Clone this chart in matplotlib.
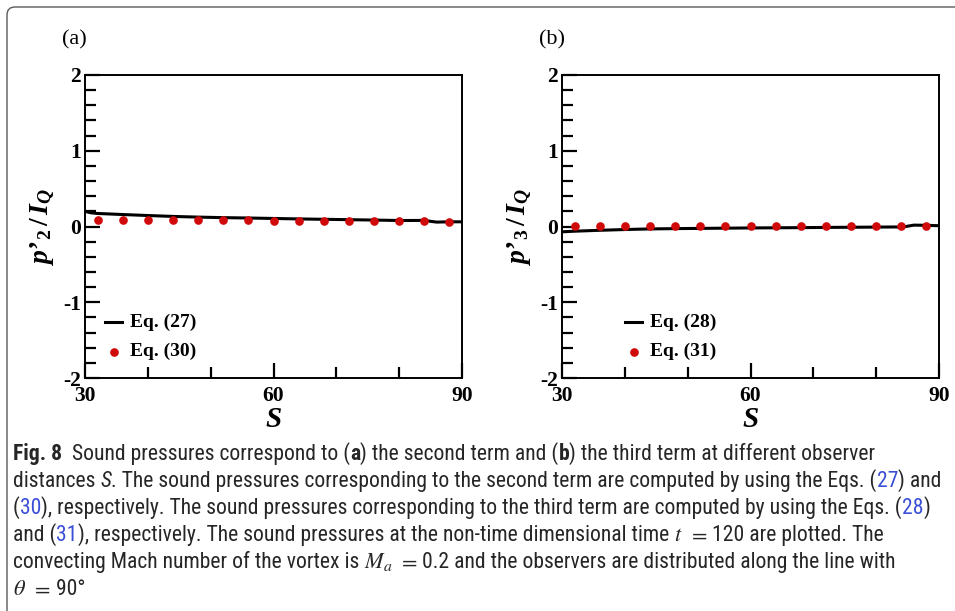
import matplotlib
matplotlib.use("Agg")
import matplotlib.pyplot as plt
from matplotlib import font_manager
from matplotlib.patches import FancyBboxPatch
from matplotlib.transforms import IdentityTransform
from matplotlib.offsetbox import TextArea, HPacker, AnchoredOffsetbox
from matplotlib.ticker import MultipleLocator

plt.rcParams['mathtext.fontset'] = 'custom'
plt.rcParams['mathtext.rm'] = 'Liberation Serif:bold'
plt.rcParams['mathtext.it'] = 'Liberation Serif:italic:bold'
plt.rcParams['mathtext.bf'] = 'Liberation Serif:bold'
plt.rcParams['axes.unicode_minus'] = False

# ---------------- data ----------------
S_line_a = [30, 31, 32, 36, 40, 44, 48, 52, 56, 60, 64, 68, 72, 76, 80, 83, 84, 85, 86, 88, 90]
p2_line = [0.20, 0.18, 0.172, 0.158, 0.145, 0.133, 0.124, 0.117, 0.112, 0.106, 0.100, 0.095, 0.090,
           0.085, 0.079, 0.080, 0.082, 0.068, 0.058, 0.062, 0.062]
S_dots = [32, 36, 40, 44, 48, 52, 56, 60, 64, 68, 72, 76, 80, 84, 88]
p2_dots = [0.092, 0.090, 0.088, 0.086, 0.084, 0.082, 0.080, 0.078, 0.076, 0.074, 0.072, 0.070,
           0.068, 0.067, 0.066]

S_line_b = [30, 32, 36, 40, 44, 48, 52, 56, 60, 64, 68, 72, 76, 80, 83, 84, 85, 86, 88, 90]
p3_line = [-0.070, -0.062, -0.050, -0.040, -0.032, -0.028, -0.025, -0.022, -0.019, -0.017, -0.015,
           -0.012, -0.010, -0.008, -0.006, -0.010, 0.004, 0.018, 0.016, 0.010]
p3_dots = [0.004, 0.004, 0.004, 0.004, 0.004, 0.004, 0.004, 0.004, 0.004, 0.004, 0.004, 0.004,
           0.004, 0.004, 0.004]

panel_labels = ["(a)", "(b)"]
ylabels = ["$p\u2019_{2}\\,/\\,I_{Q}$", "$p\u2019_{3}\\,/\\,I_{Q}$"]
legend_line = ["Eq. (27)", "Eq. (28)"]
legend_dots = ["Eq. (30)", "Eq. (31)"]
xticks_major = [30, 60, 90]
yticks_major = [-2, -1, 0, 1, 2]

W, H = 955, 611
fig = plt.figure(figsize=(W / 100, H / 100), dpi=100)

# border
fig.add_artist(FancyBboxPatch((7, -30), 1100, H - 7 + 30,
                              boxstyle="round,pad=0,rounding_size=8",
                              transform=IdentityTransform(), fill=False,
                              edgecolor="#5a5a5a", linewidth=1.0))

red = "#d00a0a"
serif = "Liberation Serif"
axes_px = [(85, 462), (562, 939)]
top_px, bot_px = 75, 378
series = [(S_line_a, p2_line, p2_dots), (S_line_b, p3_line, p3_dots)]
leg_x = [(105, 122, 130), (625, 642, 650)]

for i, ((l, r), (sx, sy, dy)) in enumerate(zip(axes_px, series)):
    ax = fig.add_axes([l / W, 1 - bot_px / H, (r - l) / W, (bot_px - top_px) / H])
    ax.plot(sx, sy, color="black", lw=2.2, solid_capstyle="butt")
    ax.plot(S_dots, dy, "o", color=red, ms=5.2, mec=red, lw=0)
    ax.set_xlim(30, 90)
    ax.set_ylim(-2, 2)
    ax.set_xticks(xticks_major)
    ax.xaxis.set_minor_locator(MultipleLocator(10))
    ax.set_yticks(yticks_major)
    ax.yaxis.set_minor_locator(MultipleLocator(0.2))
    ax.tick_params(which="both", direction="in", top=False, right=False, width=1.6)
    ax.tick_params(which="major", length=11)
    ax.tick_params(which="minor", length=8)
    ax.tick_params(axis="x", pad=6)
    ax.tick_params(axis="y", pad=3)
    for lab in ax.get_xticklabels() + ax.get_yticklabels():
        lab.set_fontfamily(serif)
        lab.set_fontweight("bold")
        lab.set_fontsize(15.5)
    for sp in ax.spines.values():
        sp.set_linewidth(1.4)
    ax.set_xlabel("$S$", fontsize=21, labelpad=-1)
    ax.set_ylabel(ylabels[i], fontsize=20, labelpad=4)
    # legend, drawn manually inside axes
    x0, x1, xt = leg_x[i]
    tr = fig.transFigure
    fig.add_artist(plt.Line2D([x0 / W, x1 / W], [1 - 322 / H] * 2, color="black", lw=2.2,
                              transform=tr))
    fig.add_artist(plt.Line2D([(x0 + x1) / 2 / W], [1 - 352 / H], marker="o", color=red,
                              ms=5.2, transform=tr, lw=0))
    fig.text(xt / W, 1 - 322 / H, legend_line[i], fontfamily=serif, fontweight="bold",
             fontsize=14, va="center", ha="left")
    fig.text(xt / W, 1 - 351 / H, legend_dots[i], fontfamily=serif, fontweight="bold",
             fontsize=14, va="center", ha="left")
    fig.text((l - 23) / W, 1 - 40 / H, panel_labels[i], fontfamily=serif, fontsize=16,
             va="center", ha="left")

# ---------------- caption ----------------
entries = [(f.name, str(f.stretch)) for f in font_manager.fontManager.ttflist]
cap_font, cap_size, cap_stretch = "Roboto", 14.0, "normal"
for fam, size in [("Liberation Sans Narrow", 15.4), ("Roboto Condensed", 15.6),
                  ("Open Sans Condensed", 15.6)]:
    if any(n == fam for n, _ in entries):
        cap_font, cap_size = fam, size
        break
else:
    if any(n == "DejaVu Sans" and s in ("condensed", "semi-condensed", "75", "87.5")
           for n, s in entries):
        cap_font, cap_size, cap_stretch = "DejaVu Sans", 13.4, "condensed"
blue = "#3a4fd6"


def seg(t, **kw):
    props = dict(fontfamily=cap_font, fontsize=cap_size, color="#262626", fontstretch=cap_stretch)
    props.update(kw)
    return TextArea(t, textprops=props)


def bold(t):
    return seg(t, fontweight="bold")


def ital(t):
    return seg(t, fontstyle="italic")


def bl(t):
    return seg(t, color=blue)


def mth(t):
    return TextArea(t, textprops=dict(fontsize=cap_size + 0.5, color="#262626",
                                      math_fontfamily="stix"))


lines = [
    [bold("Fig. 8"), seg("  Sound pressures correspond to ("), bold("a"),
     seg(") the second term and ("), bold("b"),
     seg(") the third term at different observer")],
    [seg("distances "), ital("S"),
     seg(". The sound pressures corresponding to the second term are computed by using the Eqs. ("),
     bl("27"), seg(") and")],
    [seg("("), bl("30"),
     seg("), respectively. The sound pressures corresponding to the third term are computed by using the Eqs. ("),
     bl("28"), seg(")")],
    [seg("and ("), bl("31"),
     seg("), respectively. The sound pressures at the non-time dimensional time "),
     mth(r"$t$"), seg(" "), mth(r"$=$"), seg(" 120 are plotted. The")],
    [seg("convecting Mach number of the vortex is "), mth(r"$M_a$"), seg(" "), mth(r"$=$"),
     seg(" 0.2 and the observers are distributed along the line with")],
    [mth(r"$\theta$"), seg(" "), mth(r"$=$"), seg(" 90°")],
]
baselines = [461, 488, 515, 542, 569, 596]
for parts, yb in zip(lines, baselines):
    hp = HPacker(children=parts, align="baseline", pad=0, sep=0)
    ab = AnchoredOffsetbox(loc="lower left", child=hp, pad=0, borderpad=0, frameon=False,
                           bbox_to_anchor=(13 / W, 1 - (yb + 4) / H),
                           bbox_transform=fig.transFigure)
    fig.add_artist(ab)

fig.savefig("out.png", dpi=100)
